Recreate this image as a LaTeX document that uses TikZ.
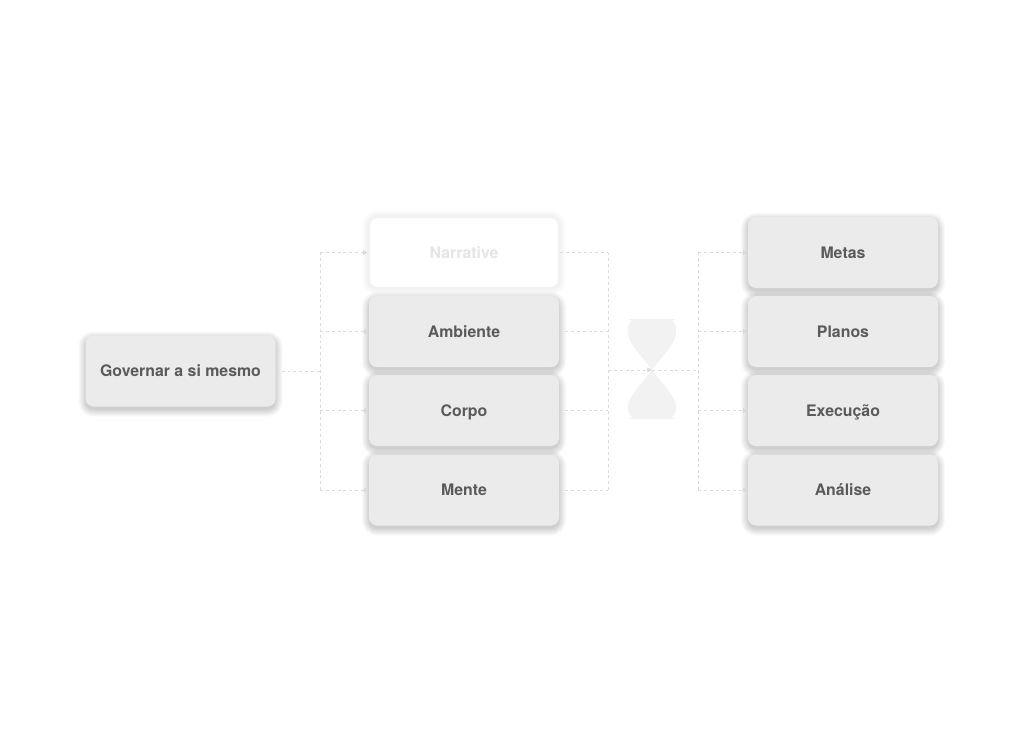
\documentclass[tikz,border=0pt]{standalone}
\usepackage{fontspec}
\setmainfont{TeX Gyre Heros}
\usetikzlibrary{arrows.meta}
\definecolor{boxfill}{HTML}{EBEBEB}
\definecolor{boxtext}{HTML}{5A5A5A}
\definecolor{linec}{HTML}{DADADA}
\definecolor{hourg}{HTML}{F2F2F2}
\tikzset{
  card/.style={rectangle, rounded corners=6pt, fill=boxfill, minimum width=142.5pt, minimum height=53.25pt,
    text=boxtext, font=\bfseries\fontsize{11.9}{13}\selectfont, text height=8.6pt, text depth=0pt},
  ghost/.style={rectangle, rounded corners=6pt, fill=white, minimum width=142.5pt, minimum height=53.25pt,
    draw=black!5, line width=1.8pt, text=black!10, font=\bfseries\fontsize{11.9}{13}\selectfont,
    text height=8.6pt, text depth=0pt},
  conn/.style={draw=linec, line width=0.6pt, dash pattern=on 2.2pt off 2.2pt},
  arr/.style={conn, -{Triangle[length=3.5pt,width=3.5pt,fill=linec]}},
  shadowlayer/.style={fill=black, opacity=#1}
}
% soft shadow behind a card centred at (#1,#2) in pixel units; #3 = vertical offset, #4 = opacity per layer
\newcommand\softshadow[4]{%
  \foreach \d in {0,1,...,7}{%
    \pgfmathsetmacro\xa{#1-95-\d}\pgfmathsetmacro\xb{#1+95+\d}%
    \pgfmathsetmacro\ya{#2-35.5-\d+#3}\pgfmathsetmacro\yb{#2+35.5+\d+#3}%
    \pgfmathsetmacro\rc{6+0.75*\d}%
    \fill[shadowlayer=#4, rounded corners=\rc pt] (\xa,\ya) rectangle (\xb,\yb);
  }}
\begin{document}
\begin{tikzpicture}[x=0.75pt,y=-0.75pt]
\useasboundingbox[fill=white] (0,0) rectangle (1024,747);
% shadows
\softshadow{180.5}{371}{3}{0.024}
\softshadow{464}{252.5}{0}{0.008}
\foreach \yy in {331.5,410.5,490}{\softshadow{464}{\yy}{3}{0.024}}
\foreach \yy in {252.5,331.5,410.5,490}{\softshadow{843}{\yy}{3}{0.024}}
% hourglass
\fill[hourg] (633,319) -- (671,319) .. controls (678,325) and (678,336) .. (670,347) -- (652,370)
  -- (670,393) .. controls (678,403) and (678,412) .. (671,418) -- (633,418)
  .. controls (626,412) and (626,403) .. (634,393) -- (652,370) -- (634,347)
  .. controls (626,336) and (626,325) .. (633,319) -- cycle;
\draw[hourg, line width=0.6pt] (629,319) -- (675,319) (629,418) -- (675,418);
% nodes
\node[card] (gov) at (180.5,371) {Governar a si mesmo};
\node[ghost] (nar) at (464,252.5) {Narrative};
\node[card] (amb) at (464,331.5) {Ambiente};
\node[card] (cor) at (464,410.5) {Corpo};
\node[card] (men) at (464,490) {Mente};
\node[card] (met) at (843,252.5) {Metas};
\node[card] (pla) at (843,331.5) {Planos};
\node[card] (exe) at (843,410.5) {Execução};
\node[card] (ana) at (843,490) {Análise};
\coordinate (hg) at (652,370);
% junction coordinates
\coordinate (j1) at (320,371);
\coordinate (j2) at (608,370);
\coordinate (j3) at (698,370);
% left connectors
\draw[conn] (gov.east) -- (j1);
\draw[conn] (320,252.5) -- (320,490);
\foreach \n in {nar,amb,cor,men}{
  \draw[arr] (320,0 |- \n.west) -- (\n.west);
}
% middle connectors
\draw[conn] (608,252.5) -- (608,490);
\foreach \n in {nar,amb,cor,men}{
  \draw[conn] (\n.east) -- (608,0 |- \n.east);
}
\draw[arr] (j2) -- (hg);
\draw[conn] (hg) -- (j3);
% right connectors
\draw[conn] (698,252.5) -- (698,490);
\foreach \n in {met,pla,exe,ana}{
  \draw[arr] (698,0 |- \n.west) -- (\n.west);
}
\end{tikzpicture}
\end{document}
